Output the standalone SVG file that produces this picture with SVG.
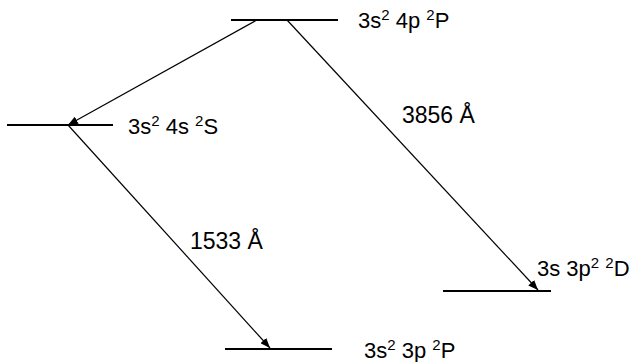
<svg xmlns="http://www.w3.org/2000/svg" width="637" height="362" viewBox="0 0 637 362">
<style>
.lvl{stroke:#000;stroke-width:2;fill:none}
.arr{stroke:#000;stroke-width:1.2;fill:none;marker-end:url(#ah)}
text{font-family:"Liberation Sans",Arial,sans-serif;font-size:22px;fill:#000}
.wl{font-size:23px}
.sup{font-size:15px}
</style>
<defs>
<marker id="ah" viewBox="0 0 10 8" refX="10" refY="4" markerWidth="10" markerHeight="8" markerUnits="userSpaceOnUse" orient="auto">
<path d="M0,0 L10,4 L0,8 Z" fill="#000"/>
</marker>
</defs>
<rect width="637" height="362" fill="#fff"/>
<g id="connectors">
<line class="arr" x1="257" y1="20" x2="68" y2="125"/>
<line class="arr" x1="287" y1="20" x2="538" y2="290"/>
<line class="arr" x1="68" y1="125" x2="270" y2="348"/>
<text class="wl" x="402" y="123">3856 Å</text>
<text class="wl" x="190" y="249">1533 Å</text>
</g>
<g id="level-4p">
<line class="lvl" x1="231" y1="20" x2="338" y2="20"/>
<text x="358" y="28">3s<tspan class="sup" dy="-8">2</tspan><tspan dy="8"> 4p </tspan><tspan class="sup" dy="-8">2</tspan><tspan dy="8">P</tspan></text>
</g>
<g id="level-4s">
<line class="lvl" x1="7" y1="125" x2="113" y2="125"/>
<text x="128" y="134">3s<tspan class="sup" dy="-8">2</tspan><tspan dy="8"> 4s </tspan><tspan class="sup" dy="-8">2</tspan><tspan dy="8">S</tspan></text>
</g>
<g id="level-3p2">
<line class="lvl" x1="443" y1="291" x2="551" y2="291"/>
<text x="537" y="276">3s 3p<tspan class="sup" dy="-8">2</tspan><tspan dy="8"> </tspan><tspan class="sup" dy="-8">2</tspan><tspan dy="8">D</tspan></text>
</g>
<g id="level-3p">
<line class="lvl" x1="225" y1="349" x2="332" y2="349"/>
<text x="364" y="358">3s<tspan class="sup" dy="-8">2</tspan><tspan dy="8"> 3p </tspan><tspan class="sup" dy="-8">2</tspan><tspan dy="8">P</tspan></text>
</g>
</svg>
